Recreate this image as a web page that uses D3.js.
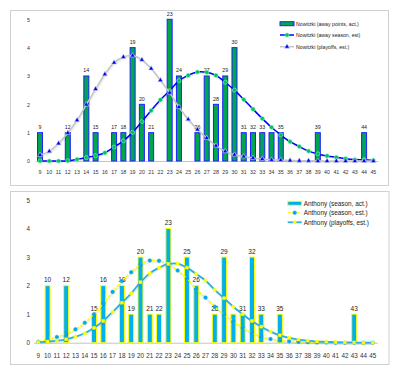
<!DOCTYPE html>
<html>
<head>
<meta charset="utf-8">
<script src="https://cdn.jsdelivr.net/npm/d3@7"></script>
<style>
  body { margin: 0; background: #fff; }
  svg text { font-family: "Liberation Sans", Arial, sans-serif; }
</style>
</head>
<body>
<svg id="chart" width="400" height="375"></svg>
<script>
// categories (points scored)
const categories = ['9','10','11','12','13','14','15','16','17','18','19','20','21','22','23','24','25','26','27',
                    '28','29','30','31','32','33','34','35','36','37','38','39','40','41','42','43','44','45'];
const yTicks = [0, 1, 2, 3, 4, 5];

// Nowitzki panel
const nowitzkiActual = [1,0,0,1,0,3,1,0,1,1,4,2,1,0,5,3,0,1,3,2,3,4,1,1,1,1,1,0,0,0,1,0,0,0,0,1,0];
const nowitzkiSeasonEst = [0,0,0,0.01,0.06,0.12,0.19,0.29,0.49,0.71,1.01,1.39,1.78,2.16,2.48,2.83,3.02,3.14,3.13,
                           3.02,2.78,2.50,2.17,1.83,1.50,1.19,0.92,0.68,0.51,0.35,0.25,0.18,0.13,0.08,0.05,0.04,0.02];
const nowitzkiPlayoffEst = [0.21,0.34,0.62,0.99,1.44,1.99,2.54,3.06,3.47,3.67,3.72,3.57,3.26,2.85,2.41,1.90,1.47,1.11,0.81,
                            0.54,0.34,0.22,0.16,0.11,0.07,0.04,0.03,0.02,0.01,0.01,0,0,0,0,0,0,0];
const nowitzkiHidden = ['34'];   // labels excel dropped

// Anthony panel
const anthonyActual = [0,2,0,2,0,0,1,2,0,2,1,3,1,1,4,0,3,2,0,1,3,1,1,3,1,0,1,0,0,0,0,0,0,0,1,0,0];
const anthonySeasonEst = [0.03,0.10,0.20,0.32,0.47,0.70,1.00,1.38,1.78,2.16,2.47,2.74,2.88,2.87,2.76,2.53,2.24,1.87,1.58,
                          1.26,0.98,0.74,0.53,0.35,0.21,0.13,0.08,0.05,0.03,0.02,0.01,0.01,0,0,0,0,0];
const anthonyPlayoffEst = [0.02,0.04,0.07,0.12,0.21,0.33,0.52,0.76,1.08,1.40,1.73,2.12,2.43,2.63,2.76,2.77,2.63,2.41,2.18,
                           1.85,1.56,1.26,1.00,0.76,0.56,0.39,0.26,0.17,0.11,0.07,0.04,0.03,0.02,0.01,0.01,0,0];
const anthonyHidden = ['30'];

const svg = d3.select('#chart');

// panel frames
svg.append('rect').attr('x', 10.5).attr('y', 10.5).attr('width', 378).attr('height', 175)
   .attr('fill', '#fff').attr('stroke', '#d0d0d0');
svg.append('rect').attr('x', 10.5).attr('y', 191.5).attr('width', 378.5).attr('height', 173)
   .attr('fill', '#fff').attr('stroke', '#d0d0d0');

function drawPanel(p) {
    let g = svg.append('g');

    let x = d3.scaleBand().domain(categories).range(p.xRange);
    let y = d3.scaleLinear().domain([0, 5]).range(p.yRange);
    let cx = c => x(c) + x.bandwidth() / 2;

    // y axis (labels only)
    let yAxis = g.append('g')
        .attr('transform', `translate(${p.yAxisX},0)`)
        .call(d3.axisLeft(y).tickValues(yTicks).tickFormat(d3.format('d')).tickSize(0).tickPadding(0));
    yAxis.select('.domain').remove();
    yAxis.selectAll('text').attr('font-size', p.tickFont).attr('fill', '#333').attr('font-family', p.font);

    // x axis
    let xAxis = g.append('g')
        .attr('transform', `translate(0,${p.yRange[0]})`)
        .call(d3.axisBottom(x).tickSize(0).tickSizeOuter(0).tickPadding(p.xPad));
    xAxis.select('.domain').attr('stroke', '#c4c4c4');
    xAxis.selectAll('text').attr('font-size', p.tickFont).attr('fill', '#333').attr('font-family', p.font);

    // bars
    let barData = categories.map((c, i) => ({ c: c, v: p.actual[i] })).filter(d => d.v > 0);
    let bw = 5;
    g.selectAll('.bar')
        .data(barData)
        .join('rect')
        .classed('bar', true)
        .attr('x', d => cx(d.c) - bw / 2)
        .attr('y', d => y(d.v))
        .attr('width', bw)
        .attr('height', d => y(0) - y(d.v))
        .attr('fill', p.barFill)
        .attr('stroke', p.barStroke)
        .attr('stroke-width', 1);

    // value labels (the category name above each bar)
    g.selectAll('.bar-label')
        .data(barData.filter(d => !p.hidden.includes(d.c)))
        .join('text')
        .classed('bar-label', true)
        .attr('x', d => cx(d.c))
        .attr('y', d => y(d.v) - 3.5)
        .attr('text-anchor', 'middle')
        .attr('font-size', p.labelFont)
        .attr('font-family', p.font)
        .attr('fill', '#222')
        .text(d => d.c);

    let line = d3.line()
        .x((d, i) => cx(categories[i]))
        .y(d => y(d))
        .curve(d3.curveCatmullRom.alpha(0.5));

    p.series.forEach(s => {
        // faint shadow like excel
        g.append('path').datum(s.values)
            .attr('d', line)
            .attr('transform', 'translate(0.8,1.2)')
            .attr('fill', 'none')
            .attr('stroke', '#000')
            .attr('stroke-opacity', 0.07)
            .attr('stroke-width', s.width + 0.5);
        g.append('path').datum(s.values)
            .attr('d', line)
            .attr('fill', 'none')
            .attr('stroke', s.stroke)
            .attr('stroke-width', s.width)
            .attr('stroke-dasharray', s.dash || null);
        g.selectAll(null)
            .data(s.values)
            .join('path')
            .attr('transform', (d, i) => `translate(${cx(categories[i])},${y(d)})`)
            .attr('d', d3.symbol().type(s.marker).size(s.markerSize))
            .attr('fill', s.markerFill)
            .attr('stroke', s.markerStroke)
            .attr('stroke-width', 0.6);
    });

    // legend
    let lg = g.append('g').attr('transform', `translate(${p.legendX},0)`);
    p.legendRows.forEach((yy, i) => {
        let txt = i == 0 ? p.actualName : p.series[i - 1].name;
        if (i == 0) {
            lg.append('rect').attr('x', 0).attr('y', yy - 2).attr('width', 14).attr('height', 4)
              .attr('fill', p.barFill).attr('stroke', p.barStroke);
        } else {
            let s = p.series[i - 1];
            lg.append('line').attr('x1', 0).attr('x2', 14).attr('y1', yy).attr('y2', yy)
              .attr('stroke', s.stroke).attr('stroke-width', s.width).attr('stroke-dasharray', s.dash || null);
            lg.append('path').attr('transform', `translate(7,${yy})`)
              .attr('d', d3.symbol().type(s.marker).size(s.markerSize))
              .attr('fill', s.markerFill).attr('stroke', s.markerStroke).attr('stroke-width', 0.6);
        }
        lg.append('text').attr('x', 16).attr('y', yy).attr('dy', '0.35em')
          .attr('font-size', p.legendFont).attr('font-family', p.font).attr('fill', '#222')
          .text(txt);
    });
}

drawPanel({
    xRange: [35.4, 378.0],
    yRange: [161, 19.3],
    yAxisX: 30,
    xPad: 9.5,
    font: '"DejaVu Sans", Verdana, sans-serif',
    tickFont: 5.3,
    labelFont: 5.3,
    legendFont: 5.2,
    actual: nowitzkiActual,
    hidden: nowitzkiHidden,
    barFill: '#00a550',
    barStroke: '#1f1fff',
    actualName: 'Nowitzki (away points, act.)',
    series: [
        { name: 'Nowitzki (away season, est)', values: nowitzkiSeasonEst, stroke: '#0000ff', width: 1.5,
          marker: d3.symbolCircle, markerSize: 14, markerFill: '#00c060', markerStroke: '#7dffb0' },
        { name: 'Nowitzki (playoffs, est.)', values: nowitzkiPlayoffEst, stroke: '#c4c4c4', width: 1.5,
          marker: d3.symbolTriangle, markerSize: 11, markerFill: '#0000ee', markerStroke: '#c8d8ff' }
    ],
    legendX: 280,
    legendRows: [23.7, 35, 46.7]
});

drawPanel({
    xRange: [33.65, 377.4],
    yRange: [342.7, 200],
    yAxisX: 30,
    xPad: 10.5,
    font: '"Liberation Sans", Arial, sans-serif',
    tickFont: 6.3,
    labelFont: 6.5,
    legendFont: 6.4,
    actual: anthonyActual,
    hidden: anthonyHidden,
    barFill: '#00b0f0',
    barStroke: '#ffff00',
    actualName: 'Anthony (season, act.)',
    series: [
        { name: 'Anthony (season, est.)', values: anthonySeasonEst, stroke: '#ffff00', width: 1.6, dash: '3,1.5',
          marker: d3.symbolCircle, markerSize: 10, markerFill: '#00a8f0', markerStroke: '#00a8f0' },
        { name: 'Anthony (playoffs, est.)', values: anthonyPlayoffEst, stroke: '#2aaee8', width: 1.8,
          marker: d3.symbolSquare, markerSize: 8, markerFill: '#ffff00', markerStroke: '#ffff00' }
    ],
    legendX: 287.7,
    legendRows: [203.3, 212.7, 222.3]
});
</script>
</body>
</html>
